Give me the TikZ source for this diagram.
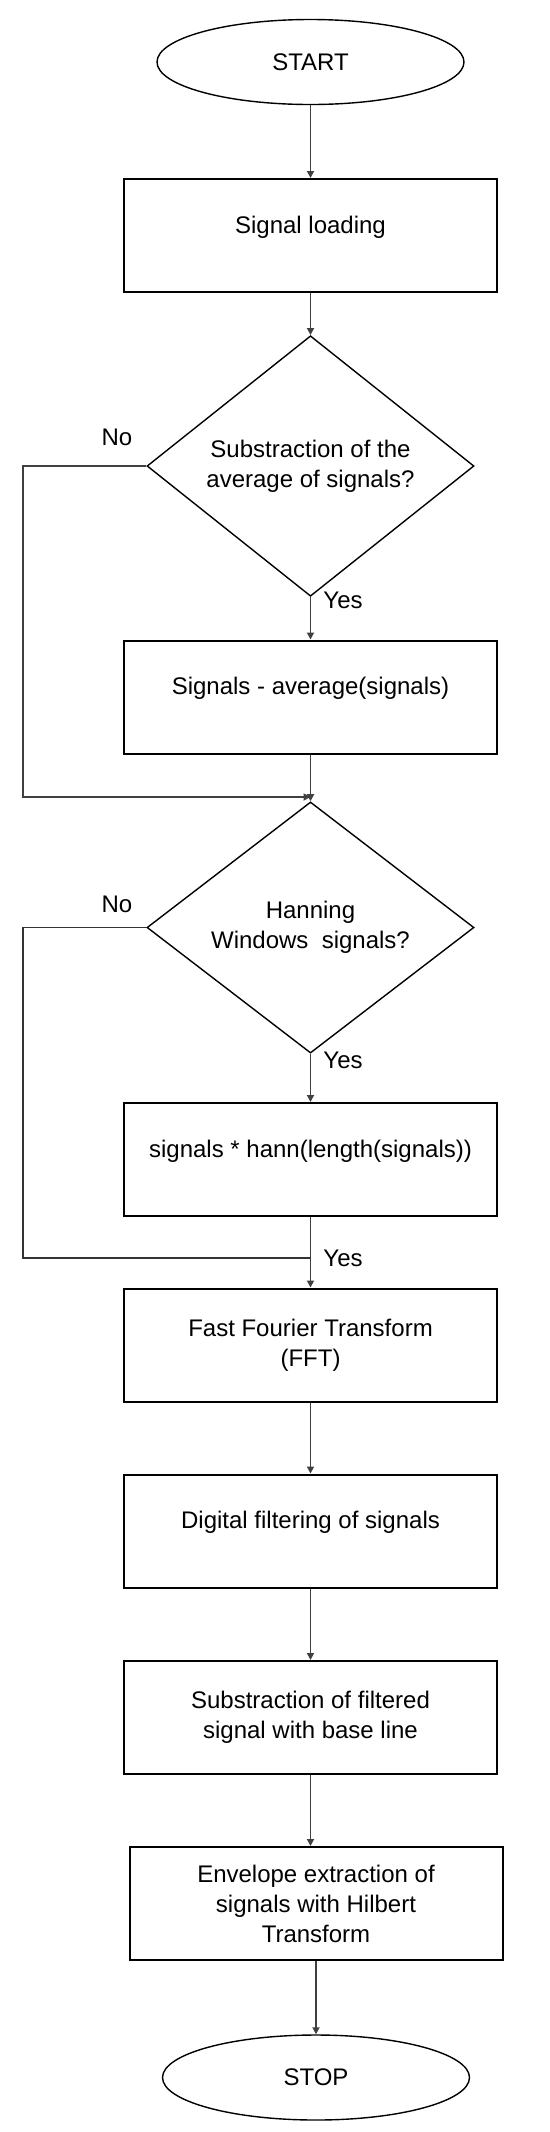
\documentclass[tikz,border=0pt]{standalone}
\usepackage{fontspec}
\setmainfont{Liberation Sans}
\usepackage{tikz}
\usetikzlibrary{shapes.geometric, arrows.meta}

\begin{document}
\begin{tikzpicture}[x=0.5pt, y=-0.5pt,
    font=\fontsize{12}{15}\selectfont,
    terminal/.style={draw, ellipse, line width=0.7pt, minimum width=153.5pt, minimum height=42.5pt, inner sep=0pt},
    process/.style={draw, rectangle, line width=1pt, minimum width=186.5pt, minimum height=56.5pt, inner sep=2pt, align=center},
    oneline/.style={text height=9pt, text depth=11.4pt},
    decision/.style={draw, diamond, line width=0.7pt, minimum width=163.5pt, minimum height=100pt, inner sep=0pt, align=center},
    flow/.style={line width=0.9pt, draw=black!75, -{Triangle[length=3.5pt, width=3.5pt]}},
    bypass/.style={line width=0.9pt, draw=black!80},
    answer/.style={inner sep=0pt}]

    % Page frame
    \useasboundingbox (0, 0) rectangle (550, 2132);

    % Start and loading
    \node[terminal] (start) at (310.5, 62) {START};
    \node[process, oneline] (load) at (310.5, 235.5) {Signal loading};

    % First question: remove the mean
    \node[decision] (q1) at (310.5, 466) {Substraction of the\\average of signals?};
    \node[process, oneline] (avg) at (310.5, 697) {Signals - average(signals)};
    \coordinate (join1) at (310.5, 797);

    % Second question: Hann window
    \node[decision] (q2) at (310.5, 927.5) {Hanning\\Windows~ signals?};
    \node[process, oneline] (hann) at (310.5, 1159.5) {signals * hann(length(signals))};
    \coordinate (join2) at (310.5, 1258);

    % Spectral processing
    \node[process] (fft) at (310.5, 1345) {Fast Fourier Transform\\(FFT)};
    \node[process, oneline] (filt) at (310.5, 1531) {Digital filtering of signals};
    \node[process] (base) at (310.5, 1717.5) {Substraction of filtered\\signal with base line};
    \node[process] (env) at (316, 1903.5) {Envelope extraction of\\signals with Hilbert\\Transform};
    \node[terminal] (stop) at (316, 2077.5) {STOP};

    % Left rail for the No branches
    \coordinate (rail) at (23, 0);

    % Branch labels
    \node[answer] (no1) at (117, 437) {No};
    \node[answer] (yes1) at (343, 600) {Yes};
    \node[answer] (no2) at (117, 904) {No};
    \node[answer] (yes2) at (343, 1060) {Yes};
    \node[answer] (yes3) at (343, 1258) {Yes};

    % Main flow
    \draw[flow] (start) -- (load);
    \draw[flow] (load) -- (q1);
    \draw[flow] (q1) -- (avg);
    \draw[flow] (avg) -- (q2);
    \draw[flow] (q2) -- (hann);
    \draw[flow] (hann) -- (fft);
    \draw[flow] (fft) -- (filt);
    \draw[flow] (filt) -- (base);
    \draw[flow] (base.south) -- (base.south |- env.north);
    \draw[flow] (env) -- (stop);

    % No branches
    \draw[flow] (q1.west) -- (q1.west -| rail) |- (join1);
    \draw[bypass] (q2.west) -- (q2.west -| rail) |- (join2);
\end{tikzpicture}
\end{document}
